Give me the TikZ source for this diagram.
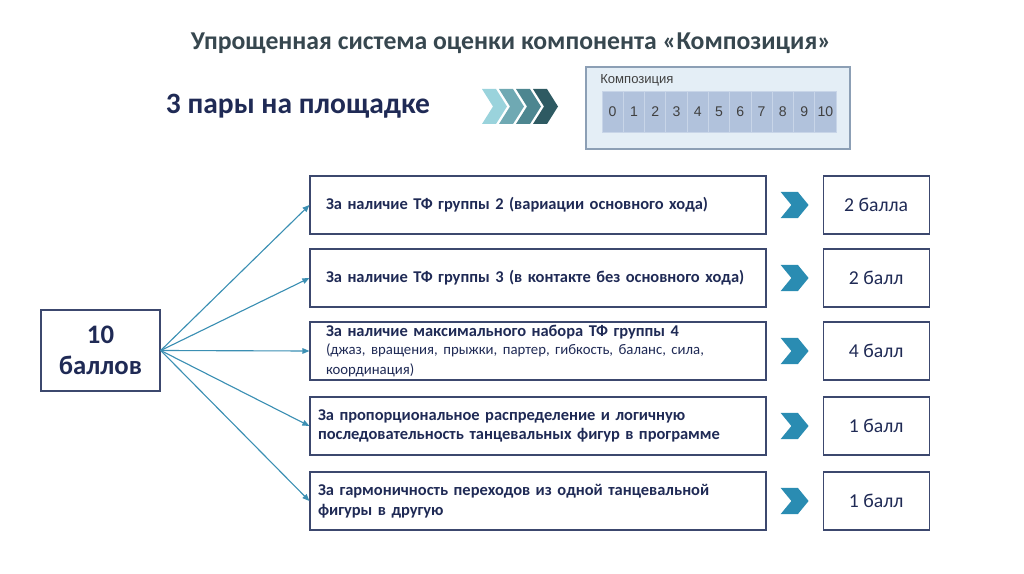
\documentclass[tikz,border=0pt]{standalone}
\usepackage{fontspec}
\setmainfont{Carlito}
\newfontfamily\uifont{Liberation Sans}
\usepackage{tikz}
\usetikzlibrary{positioning,arrows.meta,calc}
\definecolor{kmpNavy}{RGB}{31,42,85}
\definecolor{kmpLine}{RGB}{60,72,110}
\definecolor{kmpTitle}{RGB}{55,71,79}
\definecolor{kmpArrow}{RGB}{59,143,179}
\definecolor{kmpChev}{RGB}{42,140,178}
\definecolor{kmpPanel}{RGB}{228,238,246}
\definecolor{kmpPanelLine}{RGB}{140,159,181}
\definecolor{kmpCell}{RGB}{177,194,220}
\definecolor{kmpCellLine}{RGB}{200,213,232}
\definecolor{kmpA}{RGB}{154,211,220}
\definecolor{kmpB}{RGB}{111,169,179}
\definecolor{kmpC}{RGB}{77,134,144}
\definecolor{kmpD}{RGB}{46,90,98}

\begin{document}
\begin{tikzpicture}[
  crit/.style={draw=kmpLine, line width=0.8pt, align=left, text=kmpNavy,
               font=\fontsize{11.7}{14}\selectfont\bfseries, text width=10.6cm,
               inner xsep=0.4cm, inner ysep=0pt, minimum height=1.45cm},
  critwide/.style={crit, text width=11cm, inner xsep=0.2cm},
  score/.style={draw=kmpLine, line width=0.8pt, text=kmpNavy,
                font=\fontsize{14}{16}\selectfont, minimum width=2.65cm,
                minimum height=1.45cm},
  cell/.style={fill=kmpCell, draw=kmpCellLine, line width=0.6pt, inner sep=0pt,
               outer sep=0pt, minimum width=0.532cm, minimum height=1.025cm,
               text=black!75, font=\uifont\fontsize{10}{12}\selectfont},
  arr/.style={-{Triangle[length=5pt,width=4pt]}, line width=0.8pt, kmpArrow},
  minichev/.pic={\fill[kmpChev] (-0.35,0.33) -- (0.08,0.33) -- (0.35,0)
                 -- (0.08,-0.33) -- (-0.35,-0.33) -- (-0.08,0) -- cycle;}]
  \useasboundingbox (0,0) rectangle (25.6,-14.35);

  \node[font=\fontsize{18.3}{22}\selectfont\bfseries, text=kmpTitle] (title)
    at (12.775,-1.075) {Упрощенная система оценки компонента «Композиция»};
  \node[font=\fontsize{21}{24}\selectfont\bfseries, text=kmpNavy] (pairs)
    at (7.45,-2.65) {3 пары на площадке};

  \foreach \c [count=\i from 0] in {kmpA,kmpB,kmpC,kmpD}
    \fill[\c, xshift=\i*0.425cm] (12.05,-2.225) -- (12.4,-2.225) -- (12.675,-2.6625)
      -- (12.4,-3.1) -- (12.05,-3.1) -- (12.325,-2.6625) -- cycle;

  \node[fill=kmpPanel, draw=kmpPanelLine, line width=1.2pt, minimum width=6.6cm,
        minimum height=2.05cm] (panel) at (17.95,-2.7) {};
  \node[anchor=west, inner sep=0pt, text=black!75,
        font=\uifont\fontsize{9.3}{11}\selectfont] (plabel) at (15.0,-2.0) {Композиция};
  \node[cell] (n0) at (15.316,-2.7875) {0};
  \foreach \n [remember=\n as \p (initially 0)] in {1,...,10}
    \node[cell, right=0pt of n\p] (n\n) {\n};

  \node[draw=kmpLine, line width=1pt, align=center, text=kmpNavy,
        font=\fontsize{19}{22}\selectfont\bfseries, minimum width=2.975cm,
        minimum height=2.025cm] (pts) at (2.5125,-8.7625) {10\\баллов};

  \node[crit] (c1) at (13.45,-5.125) {За наличие ТФ группы 2 (вариации основного хода)};
  \node[crit] (c2) at (13.45,-6.95) {За наличие ТФ группы 3 (в контакте без основного хода)};
  \node[crit] (c3) at (13.45,-8.775) {За наличие максимального набора ТФ группы 4\\
    \mdseries\fontsize{10.5}{13}\selectfont (джаз, вращения, прыжки, партер, гибкость, баланс, сила,\\координация)};
  \node[critwide] (c4) at (13.45,-10.65) {За пропорциональное распределение и логичную\\
    последовательность танцевальных фигур в программе};
  \node[critwide] (c5) at (13.45,-12.525) {За гармоничность переходов из одной танцевальной\\
    фигуры в другую};

  \node[score, right=1.4cm of c1] (s1) {2 балла};
  \node[score, right=1.4cm of c2] (s2) {2 балл};
  \node[score, right=1.4cm of c3] (s3) {4 балл};
  \node[score, right=1.4cm of c4] (s4) {1 балл};
  \node[score, right=1.4cm of c5] (s5) {1 балл};

  \foreach \i in {1,...,5} {
    \draw[arr] (pts.east) -- (c\i.west);
    \pic at ($(c\i.east)!0.5!(s\i.west)$) {minichev};
  }
\end{tikzpicture}
\end{document}
